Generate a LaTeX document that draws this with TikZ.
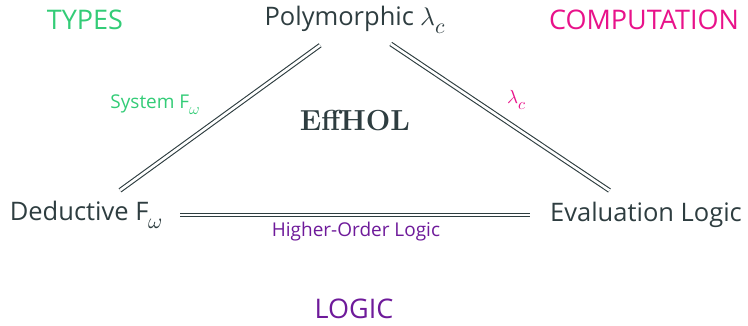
\documentclass[tikz,border=0pt]{standalone}
\usepackage{fontspec}
\setmainfont{Open Sans}
\usepackage{unicode-math}
\setmathfont{Latin Modern Math}
\newfontfamily\effont{Latin Modern Roman}
\newcommand{\lowsub}[1]{\raisebox{-0.3em}{\scalebox{0.85}{$#1$}}}
\definecolor{ink}{HTML}{2E3D40}
\definecolor{typesc}{HTML}{33CC77}
\definecolor{compc}{HTML}{E8128A}
\definecolor{logicc}{HTML}{6E1A9A}
\tikzset{
  main/.style={text=ink, font=\fontsize{25.5}{30}\selectfont, inner sep=0pt},
  corner/.style={font=\fontsize{27}{32}\selectfont, inner sep=0pt},
  elabel/.style={font=\fontsize{19}{23}\selectfont, inner sep=0pt},
  dbl/.style={draw=ink, line width=1.1pt, double=white, double distance=2.6pt},
}
\begin{document}
\begin{tikzpicture}[x=1pt,y=-1pt]
\useasboundingbox (0,0) rectangle (748,326);
\node[main] (poly) at (355,20) {Polymorphic $\lambda$\lowsub{c}};
\node[main] (ded) at (86,215) {Deductive F\lowsub{\omega}};
\node[main] (eval) at (646,215) {Evaluation Logic};
\node[corner, text=typesc] (types) at (85,20) {TYPES};
\node[corner, text=compc] (comp) at (644,20) {COMPUTATION};
\node[corner, text=logicc] (logic) at (354,309) {LOGIC};
\node[text=ink, font=\effont\bfseries\fontsize{29}{33}\selectfont, inner sep=0pt] (eff) at (355,121) {EffHOL};
\draw[dbl, shorten <=43pt, shorten >=42pt] (poly.center) -- (ded.center);
\draw[dbl, shorten <=43pt, shorten >=44pt] (poly.center) -- (eval.center);
\draw[dbl, shorten <=94pt, shorten >=116pt] (ded.center) -- (eval.center);
\node[elabel, text=typesc] (lsys) at (155,105) {System F\lowsub{\omega}};
\node[elabel, text=compc] (llam) at (517,100) {$\lambda$\lowsub{c}};
\node[elabel, text=logicc] (lhol) at (356,232) {Higher-Order Logic};
\end{tikzpicture}
\end{document}
